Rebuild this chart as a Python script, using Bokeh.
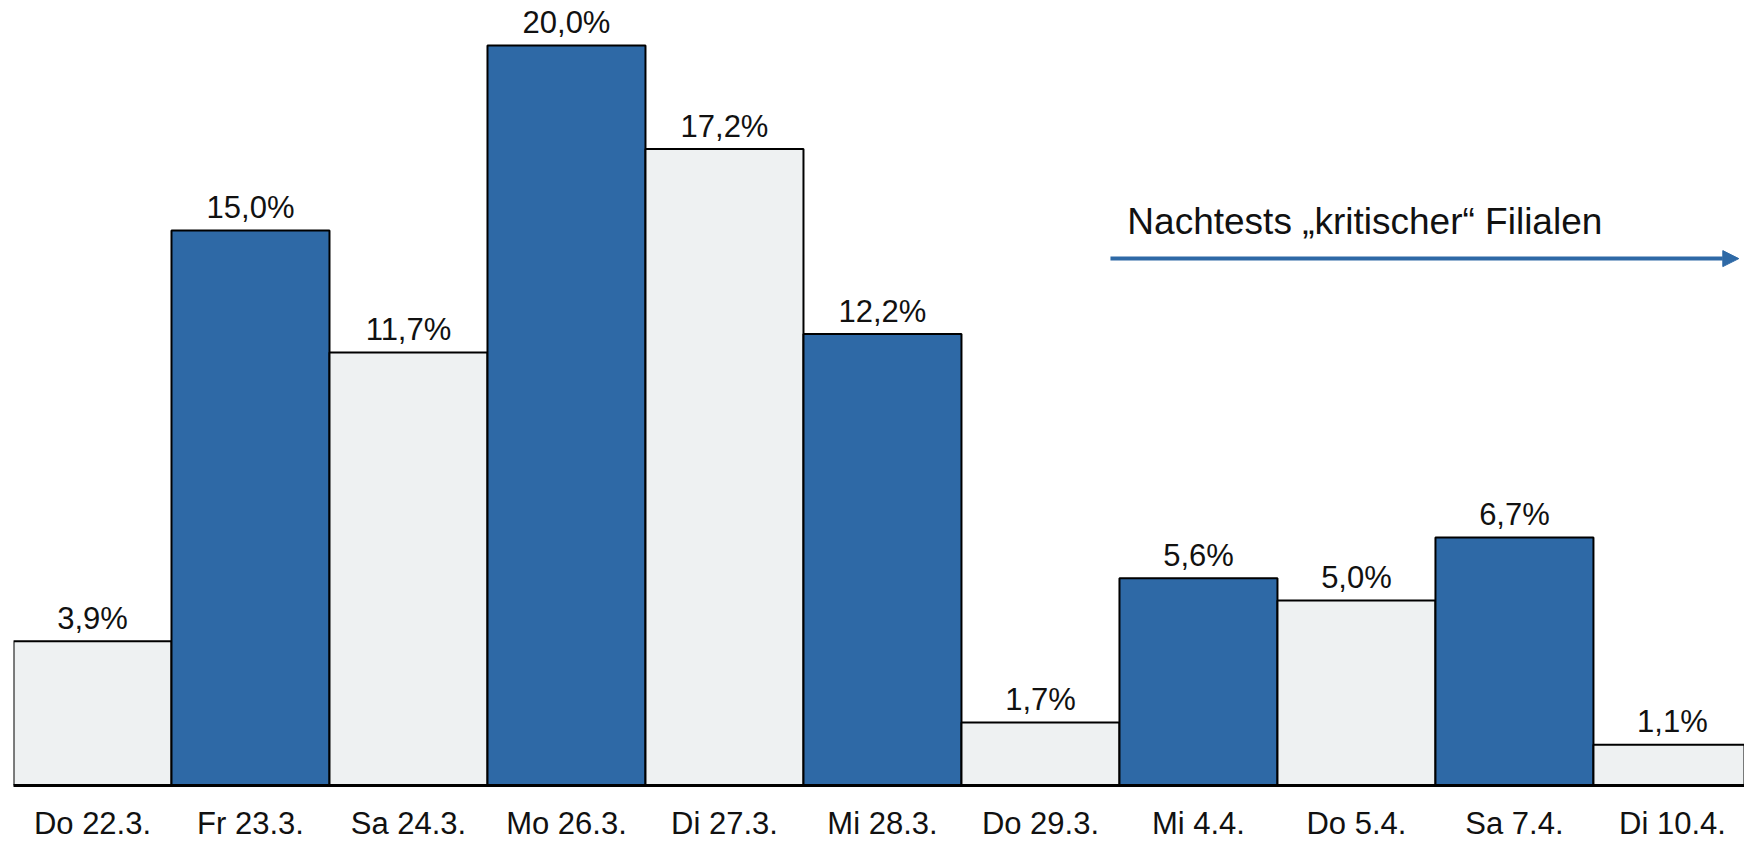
from bokeh.plotting import figure
from bokeh.models import ColumnDataSource, Range1d, FixedTicker, Arrow, NormalHead, Label
from bokeh.core.properties import value
from bokeh.embed import file_html
from bokeh.resources import INLINE

# Share of tests per day (percent)
days = ["Do 22.3.", "Fr 23.3.", "Sa 24.3.", "Mo 26.3.", "Di 27.3.", "Mi 28.3.",
        "Do 29.3.", "Mi 4.4.", "Do 5.4.", "Sa 7.4.", "Di 10.4."]
shares = [3.9, 15.0, 11.7, 20.0, 17.2, 12.2, 1.7, 5.6, 5.0, 6.7, 1.1]
note_text = "Nachtests \u201ekritischer\u201c Filialen"

BLUE = "#2E69A6"
LIGHT = "#EEF1F2"
FONT = "Liberation Sans"

xs = list(range(len(days)))
src = ColumnDataSource(dict(
    x=xs,
    top=shares,
    color=[LIGHT if i % 2 == 0 else BLUE for i in xs],
    label=[f"{v:.1f}".replace(".", ",") + "%" for v in shares],
))

p = figure(width=1744, height=844, output_backend="svg", toolbar_location=None,
           x_range=Range1d(-0.5, 10.456), y_range=Range1d(0, 21.216),
           min_border_left=13, min_border_right=0, min_border_top=0,
           min_border_bottom=59)
p.outline_line_color = None
p.grid.visible = False
p.yaxis.visible = False
p.background_fill_color = "white"

p.vbar(x="x", top="top", bottom=0, width=1.0, source=src,
       fill_color="color", line_color="black", line_width=2)

# Value labels above each bar
p.text(x="x", y="top", text="label", source=src, y_offset=-23,
       text_align="center", text_baseline="alphabetic",
       text_font_size="31px", text_font=value(FONT), text_color="#111111")

ax = p.xaxis[0]
ax.ticker = FixedTicker(ticks=xs)
ax.major_label_overrides = {i: d for i, d in zip(xs, days)}
ax.axis_line_width = 3
ax.axis_line_color = "black"
ax.major_tick_line_color = None
ax.minor_tick_line_color = None
ax.major_label_text_font = FONT
ax.major_label_text_font_size = "31px"
ax.major_label_text_color = "#111111"
ax.major_label_standoff = 14

# Follow-up testing arrow with caption
p.add_layout(Arrow(x_start=6.443, y_start=14.24, x_end=10.42, y_end=14.24,
                   line_color=BLUE, line_width=4,
                   end=NormalHead(size=16, fill_color=BLUE, line_color=BLUE)))
p.add_layout(Label(x=6.55, y=15.24, text=note_text, text_font=FONT,
                   text_font_size="37px", text_color="#111111",
                   text_baseline="alphabetic"))

open("out.html", "w").write(file_html(p, INLINE))
